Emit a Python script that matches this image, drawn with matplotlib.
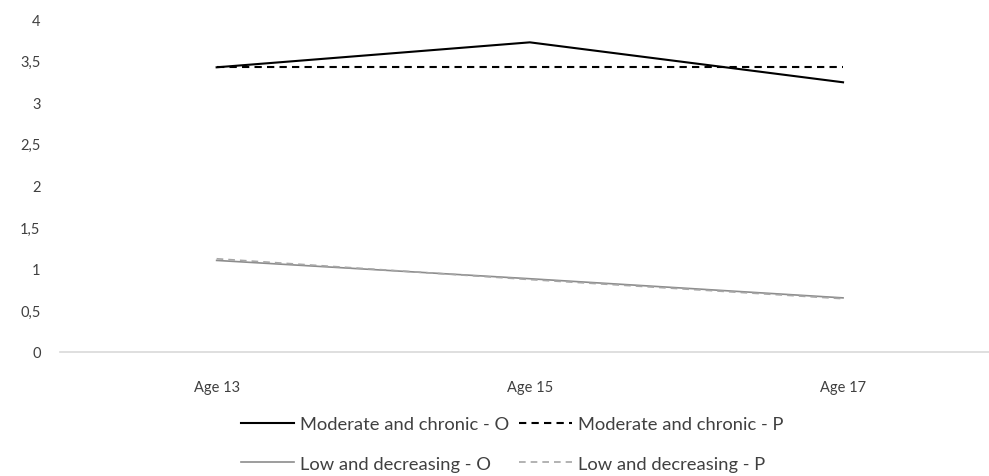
import matplotlib.pyplot as plt
from matplotlib.ticker import FuncFormatter

plt.rcParams["font.family"] = ["Lato", "DejaVu Sans"]
plt.rcParams["font.size"] = 10.5

ages = ["Age 13", "Age 15", "Age 17"]
moderate_o = [3.42, 3.72, 3.24]
moderate_p = [3.42, 3.42, 3.42]
low_o = [1.10, 0.88, 0.65]
low_p = [1.12, 0.87, 0.64]

fig = plt.figure(figsize=(9.89, 4.77), dpi=100)
ax = fig.add_axes([0.0607, 0.26, 0.9393, 0.698])

x = range(len(ages))
l1, = ax.plot(x, moderate_o, color="black", lw=1.5, label="Moderate and chronic - O")
l2, = ax.plot(x, moderate_p, color="black", lw=1.5, dashes=(3.5, 2.5),
              label="Moderate and chronic - P")
l3, = ax.plot(x, low_o, color="#8c8c8c", lw=1.2, label="Low and decreasing - O")
l4, = ax.plot(x, low_p, color="#a6a6a6", lw=1.2, dashes=(4, 3),
              label="Low and decreasing - P")

ax.set_xlim(-0.5, 2.466)
ax.set_ylim(0, 4)
ax.set_xticks(list(x))
ax.set_xticklabels(ages)
ax.set_yticks([0, 0.5, 1, 1.5, 2, 2.5, 3, 3.5, 4])
ax.yaxis.set_major_formatter(FuncFormatter(lambda v, p: f"{v:g}".replace(".", ",")))
ax.tick_params(axis="both", length=0, colors="#404040")
ax.tick_params(axis="x", pad=20)
ax.tick_params(axis="y", pad=14)

for s in ["top", "right", "left"]:
    ax.spines[s].set_visible(False)
ax.spines["bottom"].set_color("#d9d9d9")
ax.spines["bottom"].set_linewidth(1.2)

# legend fills by column, so order gives rows: moderate / low
handles = [l1, l3, l2, l4]
leg = fig.legend(handles, [h.get_label() for h in handles],
                 loc="center", bbox_to_anchor=(0.518, 0.067), ncol=2, frameon=False,
                 fontsize=13.2, handlelength=2.9, handletextpad=0.33,
                 columnspacing=0.55, labelspacing=1.28)
for t in leg.get_texts():
    t.set_color("#404040")

fig.savefig("out.png", dpi=100)
